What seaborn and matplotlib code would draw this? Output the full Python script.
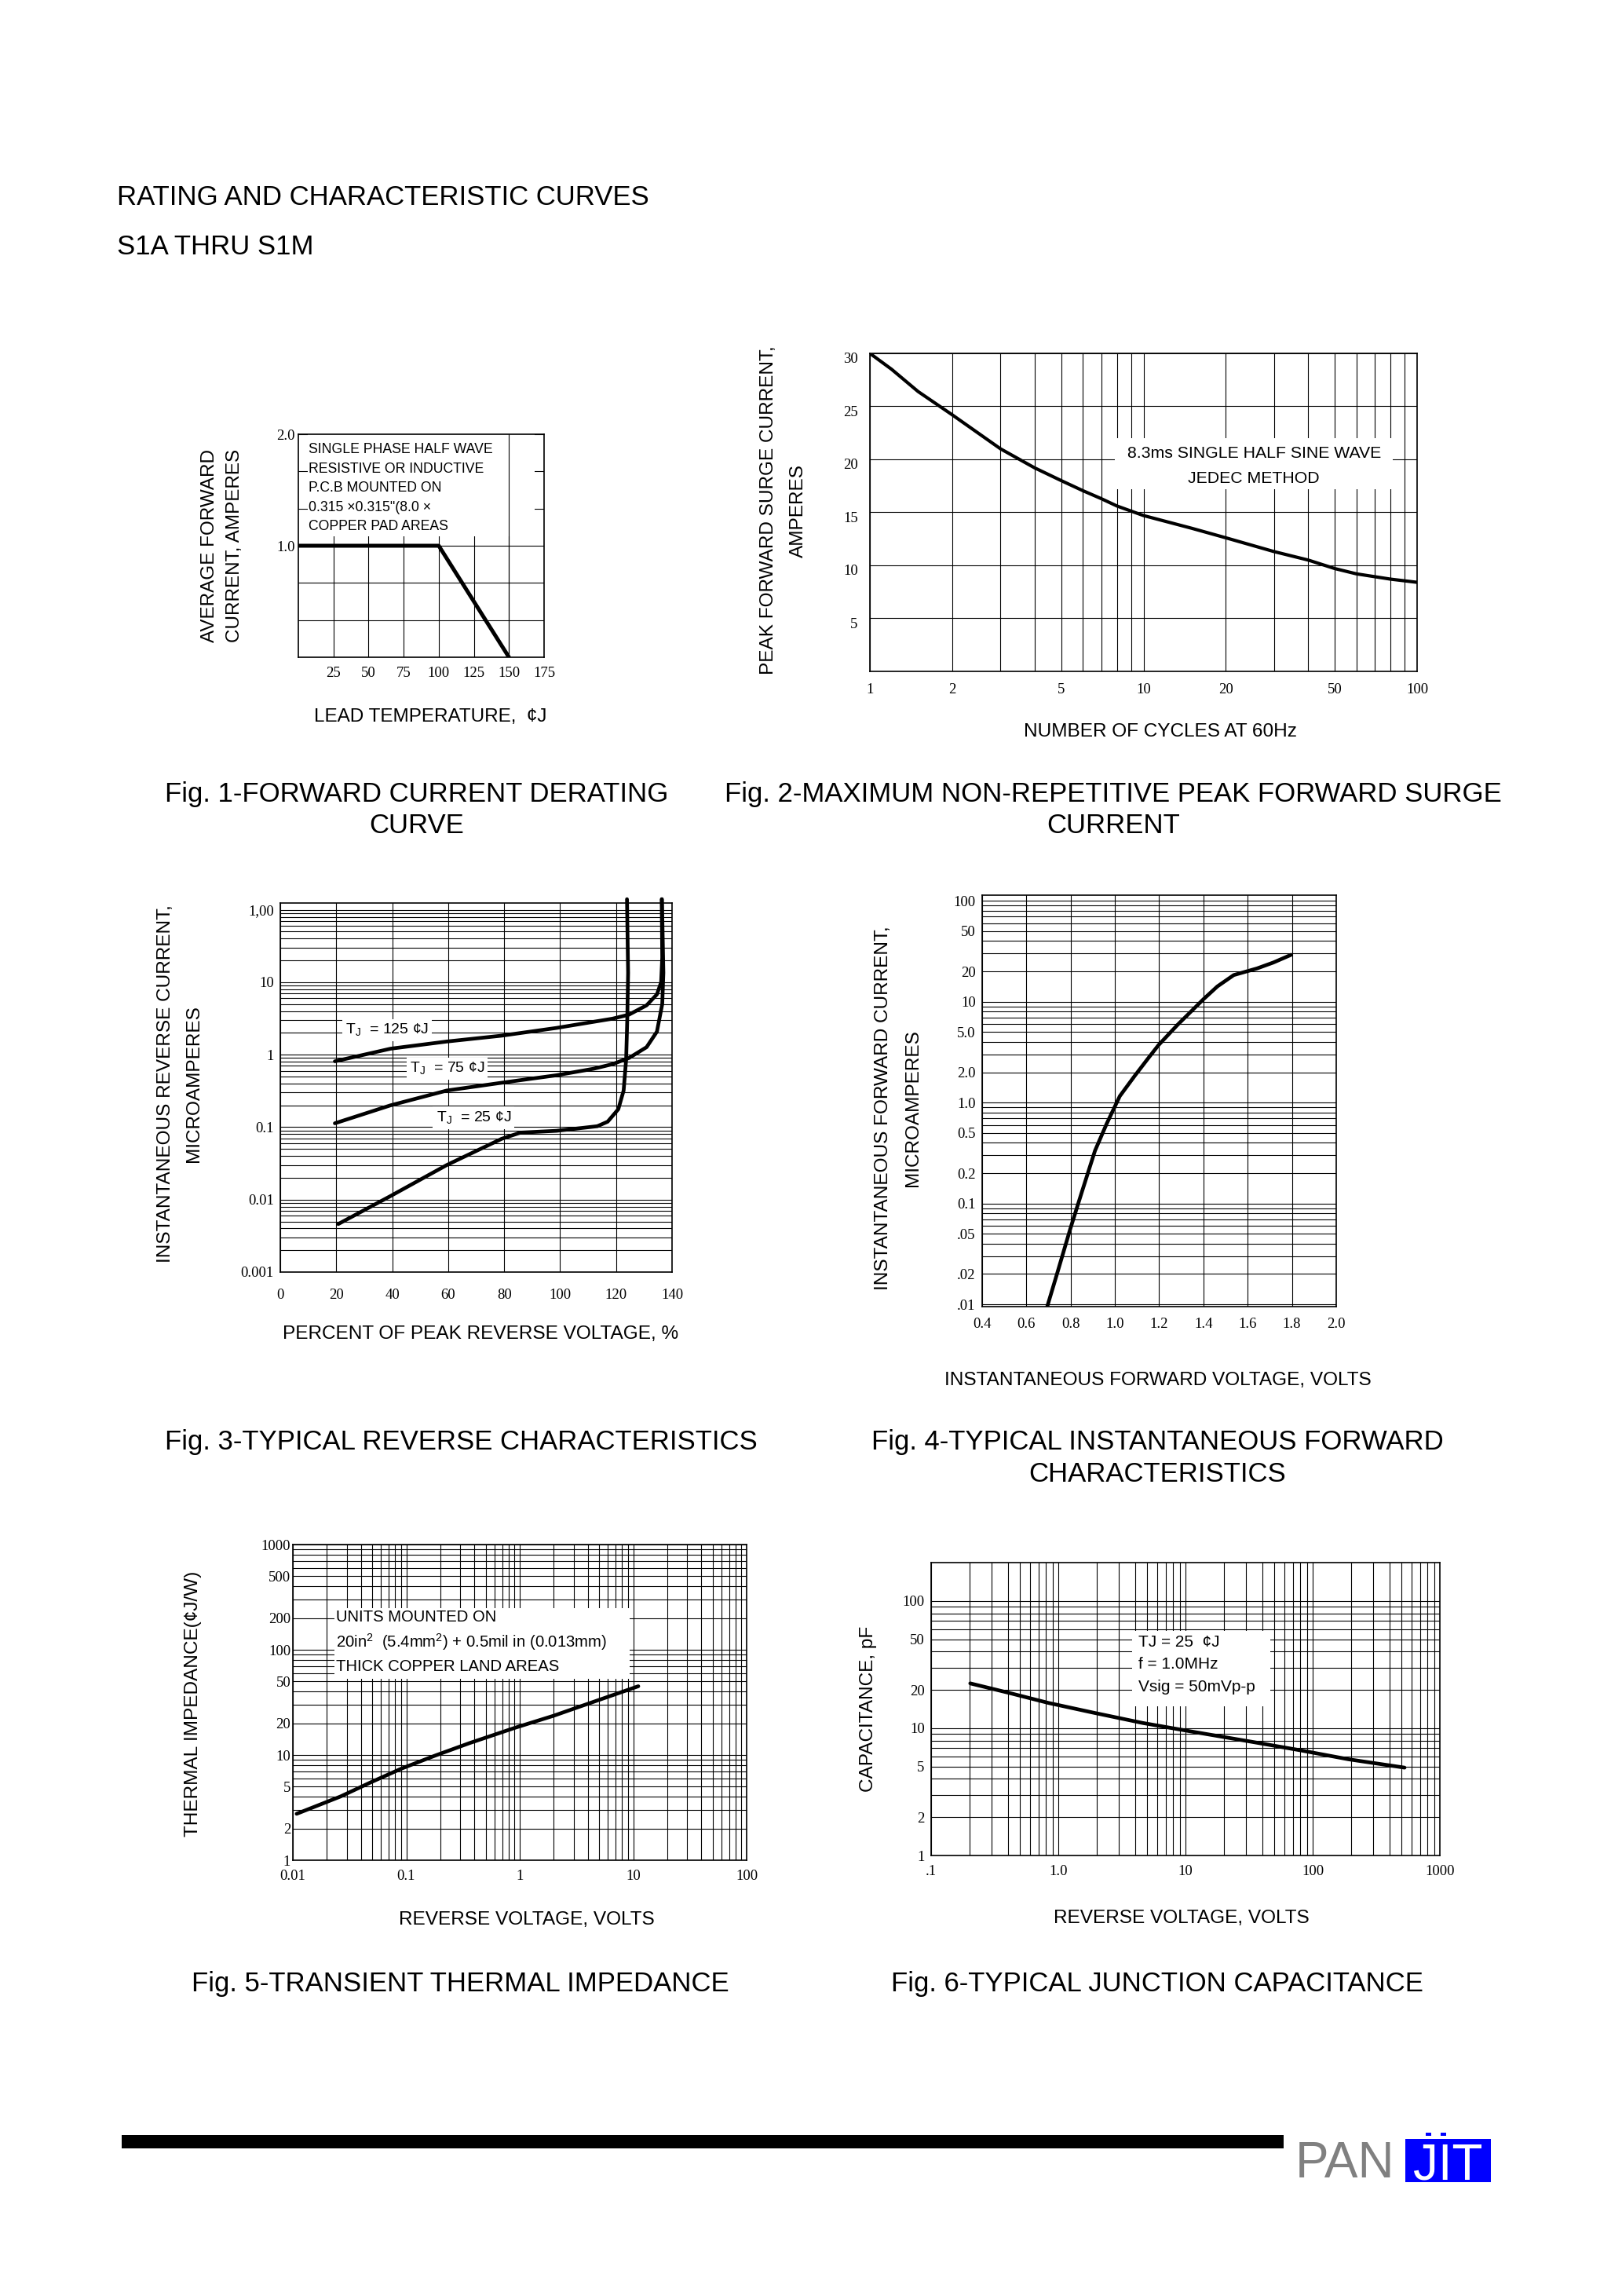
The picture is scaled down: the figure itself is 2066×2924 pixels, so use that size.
import matplotlib
matplotlib.use("Agg")
import matplotlib.pyplot as plt
import matplotlib.transforms as mtransforms
from matplotlib.patches import Rectangle
from matplotlib.ticker import NullFormatter
import seaborn as sns

# ---------------------------------------------------------
# Curve data
# ---------------------------------------------------------
# Fig. 1 - forward current derating
fig1_temp = [0, 100, 150]
fig1_amps = [1.0, 1.0, 0.0]
fig1_xticks = [25, 50, 75, 100, 125, 150, 175]
fig1_yticks = [1.0, 2.0]
fig1_ygrid = [1 / 3, 2 / 3, 4 / 3, 5 / 3]
fig1_note = ["SINGLE PHASE HALF WAVE", "RESISTIVE OR INDUCTIVE", "P.C.B MOUNTED ON",
             "0.315 \u00d70.315\"(8.0 \u00d7", "COPPER PAD AREAS"]

# Fig. 2 - peak forward surge current
fig2_cycles = [1, 1.2, 1.5, 2, 3, 4, 5, 6, 7, 8, 10, 15, 20, 30, 40, 50, 60, 80, 100]
fig2_amps = [30.0, 28.5, 26.4, 24.2, 21.0, 19.2, 18.0, 17.05, 16.3, 15.6, 14.7, 13.5,
             12.6, 11.3, 10.5, 9.7, 9.2, 8.7, 8.4]
fig2_xticks = [1, 2, 5, 10, 20, 50, 100]
fig2_xminor = [3, 4, 6, 7, 8, 9, 30, 40, 60, 70, 80, 90]
fig2_yticks = [5, 10, 15, 20, 25, 30]
fig2_note = ["8.3ms SINGLE HALF SINE WAVE", "JEDEC METHOD"]

# Fig. 3 - typical reverse characteristics
tj125_pct = [19.5, 39.4, 59.5, 79.1, 98.7, 118.7, 124.6, 130.9, 134.6, 136.1, 136.5, 136.3]
tj125_ua = [0.81, 1.21, 1.52, 1.83, 2.34, 3.14, 3.57, 4.8, 6.8, 10, 22, 140]
tj75_pct = [19.5, 39.4, 59.5, 79.1, 98.7, 112, 118.7, 124.6, 130.9, 134.6, 136.5, 136.9, 136.4]
tj75_ua = [0.113, 0.20, 0.32, 0.41, 0.52, 0.64, 0.74, 0.9, 1.27, 2.08, 5.0, 13.5, 140]
tj25_pct = [20.7, 39.4, 59.5, 79.1, 85.8, 98.7, 113.3, 117, 120.8, 122.7, 123.6, 124.0, 124.3, 123.9]
tj25_ua = [0.0046, 0.0112, 0.030, 0.069, 0.084, 0.089, 0.103, 0.119, 0.177, 0.32, 0.86, 3.1, 13.5, 140]
fig3_xticks = [0, 20, 40, 60, 80, 100, 120, 140]
fig3_yticks = [0.001, 0.01, 0.1, 1, 10, 100]
fig3_ylabels = ["0.001", "0.01", "0.1", "1", "10", "1,00"]
fig3_tags = ["T$_\\mathregular{J}$  = 125 \u00a2J", "T$_\\mathregular{J}$  = 75 \u00a2J",
             "T$_\\mathregular{J}$  = 25 \u00a2J"]
fig3_tag_x = [23.2, 46.3, 55.7]
fig3_tag_y = [2.18, 0.64, 0.134]

# Fig. 4 - typical instantaneous forward characteristics
fig4_volts = [0.694, 0.739, 0.798, 0.851, 0.910, 0.963, 1.022, 1.090, 1.149, 1.197,
              1.284, 1.400, 1.463, 1.537, 1.642, 1.716, 1.796]
fig4_ua = [0.0095, 0.0203, 0.0558, 0.131, 0.334, 0.62, 1.16, 1.85, 2.73, 3.72,
           5.94, 10.6, 14.2, 18.4, 21.4, 24.5, 29.2]
fig4_xticks = [0.4, 0.6, 0.8, 1.0, 1.2, 1.4, 1.6, 1.8, 2.0]
fig4_yticks = [0.01, 0.02, 0.05, 0.1, 0.2, 0.5, 1, 2, 5, 10, 20, 50, 100]
fig4_ylabels = [".01", ".02", ".05", "0.1", "0.2", "0.5", "1.0", "2.0", "5.0", "10", "20", "50", "100"]

# Fig. 5 - transient thermal impedance
fig5_volts = [0.0108, 0.0263, 0.0487, 0.0903, 0.181, 0.363, 0.918, 1.99, 3.16, 11.1]
fig5_imp = [2.76, 4.03, 5.5, 7.41, 9.9, 13.0, 18.2, 23.6, 28.1, 45.0]
fig5_xticks = [0.01, 0.1, 1, 10, 100]
fig5_xlabels = ["0.01", "0.1", "1", "10", "100"]
fig5_yticks = [1, 2, 5, 10, 20, 50, 100, 200, 500, 1000]
fig5_note = ["UNITS MOUNTED ON",
             "20in$^\\mathregular{2}$  (5.4mm$^\\mathregular{2}$) + 0.5mil in (0.013mm)",
             "THICK COPPER LAND AREAS"]

# Fig. 6 - typical junction capacitance
fig6_volts = [0.203, 0.405, 0.836, 1.85, 4.59, 10.6, 31.3, 80.4, 191, 528]
fig6_pf = [22.5, 19.0, 15.8, 13.3, 11.0, 9.5, 7.9, 6.7, 5.7, 4.9]
fig6_xticks = [0.1, 1, 10, 100, 1000]
fig6_xlabels = [".1", "1.0", "10", "100", "1000"]
fig6_yticks = [1, 2, 5, 10, 20, 50, 100]
fig6_ygrid = [3, 4, 6, 7, 8, 9, 30, 40, 60, 70, 80, 90]
fig6_note = ["TJ = 25  \u00a2J", "f = 1.0MHz", "Vsig = 50mVp-p"]

captions = [
    ("Fig. 1-FORWARD CURRENT DERATING", 531, 1021), ("CURVE", 531, 1061),
    ("Fig. 2-MAXIMUM NON-REPETITIVE PEAK FORWARD SURGE", 1418, 1021), ("CURRENT", 1418, 1061),
    ("Fig. 3-TYPICAL REVERSE CHARACTERISTICS", 587, 1846),
    ("Fig. 4-TYPICAL INSTANTANEOUS FORWARD", 1474, 1846), ("CHARACTERISTICS", 1474, 1887),
    ("Fig. 5-TRANSIENT THERMAL IMPEDANCE", 586, 2536),
    ("Fig. 6-TYPICAL JUNCTION CAPACITANCE", 1474, 2536),
]

# ---------------------------------------------------------
# Page setup (all positions below are page pixels)
# ---------------------------------------------------------
W, H = 2066, 2924
sns.set_theme(style="white")
plt.rcParams["font.family"] = ["Liberation Sans", "DejaVu Sans"]
plt.rcParams["text.color"] = "black"
plt.rcParams["axes.labelcolor"] = "black"
plt.rcParams["axes.edgecolor"] = "black"
plt.rcParams["xtick.color"] = "black"
plt.rcParams["ytick.color"] = "black"

fig = plt.figure(figsize=(W / 100, H / 100), dpi=100)
fig.patch.set_facecolor("white")


def fx(x):
    return x / W


def fy(y):
    return 1 - y / H


def page_axes(l, t, r, b):
    return fig.add_axes([l / W, 1 - b / H, (r - l) / W, (b - t) / H])


def style_axes(ax, xpad, ypad):
    ax.set_axisbelow(True)
    ax.grid(True, which="both", color="black", linewidth=0.8)
    ax.tick_params(which="both", length=0, labelsize=13.5,
                   labelfontfamily="Liberation Serif", colors="black")
    ax.tick_params(axis="x", pad=xpad)
    ax.tick_params(axis="y", pad=ypad)
    for sp in ax.spines.values():
        sp.set_visible(True)
        sp.set_color("black")
        sp.set_linewidth(1.2)


def mask(ax, x0, y0, x1, y1):
    ax.add_patch(Rectangle((x0, y0), x1 - x0, y1 - y0, transform=ax.transAxes,
                           facecolor="white", edgecolor="none", zorder=1))


def labels(ax, xlab, xpos, ylab, ypos, size=17.6, ls=1.9):
    ax.set_xlabel(xlab, fontsize=size, va="center", ha="center")
    ax.xaxis.set_label_coords(*xpos)
    ax.set_ylabel(ylab, fontsize=size, va="center", ha="center", linespacing=ls)
    ax.yaxis.set_label_coords(*ypos)


# header
fig.text(fx(149), fy(261), "RATING AND CHARACTERISTIC CURVES", fontsize=25, va="baseline")
fig.text(fx(149), fy(324), "S1A THRU S1M", fontsize=25, va="baseline")

# ---------------- Fig. 1 ----------------
ax1 = page_axes(380, 553, 693, 837)
style_axes(ax1, 9, 3)
sns.lineplot(x=fig1_temp, y=fig1_amps, ax=ax1, color="black", linewidth=3.6,
             estimator=None, sort=False)
ax1.set_xlim(0, 175)
ax1.set_ylim(0, 2.0)
ax1.set_xticks(fig1_xticks, [str(v) for v in fig1_xticks])
ax1.set_yticks(fig1_yticks, ["1.0", "2.0"])
ax1.set_yticks(fig1_ygrid, minor=True)
ax1.yaxis.set_minor_formatter(NullFormatter())
mask(ax1, 0.038, 0.542, 0.962, 1.0)
ax1.axvline(fig1_xticks[-2], color="black", linewidth=0.8, zorder=1.5)
for i, line in enumerate(fig1_note):
    ax1.text(0.042, 0.930 - i * 0.0863, line, transform=ax1.transAxes,
             fontsize=12.7, va="center", ha="left", zorder=3)
labels(ax1, "LEAD TEMPERATURE,  \u00a2J", (0.537, -0.268),
       "AVERAGE FORWARD\nCURRENT, AMPERES", (-0.31, 0.5), size=17.5, ls=1.6)

# ---------------- Fig. 2 ----------------
ax2 = page_axes(1108, 450, 1805, 855)
style_axes(ax2, 11, 11)
ax2.set_xscale("log")
sns.lineplot(x=fig2_cycles, y=fig2_amps, ax=ax2, color="black", linewidth=3.0,
             estimator=None, sort=False)
ax2.set_xlim(1, 100)
ax2.set_ylim(0, 30)
ax2.set_xticks(fig2_xticks, [str(v) for v in fig2_xticks])
ax2.set_xticks(fig2_xminor, minor=True)
ax2.xaxis.set_minor_formatter(NullFormatter())
ax2.set_yticks(fig2_yticks, [str(v) for v in fig2_yticks])
mask(ax2, 0.448, 0.573, 0.955, 0.733)
ax2.text(0.702, 0.686, fig2_note[0], transform=ax2.transAxes, fontsize=15.3,
         ha="center", va="center", zorder=3)
ax2.text(0.702, 0.607, fig2_note[1], transform=ax2.transAxes, fontsize=15.3,
         ha="center", va="center", zorder=3)
labels(ax2, "NUMBER OF CYCLES AT 60Hz", (0.531, -0.19),
       "PEAK FORWARD SURGE CURRENT,\nAMPERES", (-0.158, 0.506), ls=1.95)

# ---------------- Fig. 3 ----------------
ax3 = page_axes(357, 1150, 856, 1620)
style_axes(ax3, 15, 6)
ax3.set_yscale("log")
for xs, ys in [(tj125_pct, tj125_ua), (tj75_pct, tj75_ua), (tj25_pct, tj25_ua)]:
    sns.lineplot(x=xs, y=ys, ax=ax3, color="black", linewidth=3.4,
                 estimator=None, sort=False, clip_on=False)
ax3.set_xlim(0, 140)
ax3.set_ylim(0.001, 124)
ax3.set_xticks(fig3_xticks, [str(v) for v in fig3_xticks])
ax3.set_yticks(fig3_yticks, fig3_ylabels)
ax3.set_yticks([m * d for d in fig3_yticks[:-1] for m in range(2, 10)], minor=True)
ax3.yaxis.set_minor_formatter(NullFormatter())
for tag, tx, ty in zip(fig3_tags, fig3_tag_x, fig3_tag_y):
    ax3.text(tx, ty, tag, fontsize=14, ha="left", va="center", zorder=3,
             bbox=dict(facecolor="white", edgecolor="none", pad=3))
labels(ax3, "PERCENT OF PEAK REVERSE VOLTAGE, %", (0.511, -0.168),
       "INSTANTANEOUS REVERSE CURRENT,\nMICROAMPERES", (-0.257, 0.51), ls=1.85)

# ---------------- Fig. 4 ----------------
ax4 = page_axes(1251, 1140, 1702, 1664)
style_axes(ax4, 10, 6)
ax4.set_yscale("log")
sns.lineplot(x=fig4_volts, y=fig4_ua, ax=ax4, color="black", linewidth=3.4,
             estimator=None, sort=False)
ax4.set_xlim(0.4, 2.0)
ax4.set_ylim(0.0095, 114)
ax4.set_xticks(fig4_xticks, [f"{v:.1f}" for v in fig4_xticks])
ax4.set_yticks(fig4_yticks, fig4_ylabels)
ax4.set_yticks([m * d for d in [0.01, 0.1, 1, 10] for m in (3, 4, 6, 7, 8, 9)], minor=True)
ax4.yaxis.set_minor_formatter(NullFormatter())
labels(ax4, "INSTANTANEOUS FORWARD VOLTAGE, VOLTS", (0.497, -0.179),
       "INSTANTANEOUS FORWARD CURRENT,\nMICROAMPERES", (-0.237, 0.483), ls=1.9)

# ---------------- Fig. 5 ----------------
ax5 = page_axes(373, 1967, 951, 2369)
style_axes(ax5, 9, 2)
ax5.set_xscale("log")
ax5.set_yscale("log")
sns.lineplot(x=fig5_volts, y=fig5_imp, ax=ax5, color="black", linewidth=3.4,
             estimator=None, sort=False)
ax5.set_xlim(0.01, 100)
ax5.set_ylim(1, 1000)
ax5.set_xticks(fig5_xticks, fig5_xlabels)
ax5.set_xticks([m * d for d in fig5_xticks[:-1] for m in range(2, 10)], minor=True)
ax5.xaxis.set_minor_formatter(NullFormatter())
ax5.set_yticks(fig5_yticks, [str(v) for v in fig5_yticks])
ax5.set_yticks([m * d for d in (1, 10, 100) for m in (3, 4, 6, 7, 8, 9)], minor=True)
ax5.yaxis.set_minor_formatter(NullFormatter())
mask(ax5, 0.092, 0.575, 0.742, 0.799)
for i, line in enumerate(fig5_note):
    ax5.text(0.095, 0.769 - i * 0.0785, line, transform=ax5.transAxes,
             fontsize=14.6, ha="left", va="center", zorder=3)
labels(ax5, "REVERSE VOLTAGE, VOLTS", (0.516, -0.19),
       "THERMAL IMPEDANCE(\u00a2J/W)", (-0.22, 0.495))

# ---------------- Fig. 6 ----------------
ax6 = page_axes(1186, 1990, 1834, 2363)
style_axes(ax6, 9, 6)
ax6.set_xscale("log")
ax6.set_yscale("log")
sns.lineplot(x=fig6_volts, y=fig6_pf, ax=ax6, color="black", linewidth=3.4,
             estimator=None, sort=False)
ax6.set_xlim(0.1, 1000)
ax6.set_ylim(1, 200)
ax6.set_xticks(fig6_xticks, fig6_xlabels)
ax6.set_xticks([m * d for d in fig6_xticks[:-1] for m in range(2, 10)], minor=True)
ax6.xaxis.set_minor_formatter(NullFormatter())
ax6.set_yticks(fig6_yticks, [str(v) for v in fig6_yticks])
ax6.set_yticks(fig6_ygrid, minor=True)
ax6.yaxis.set_minor_formatter(NullFormatter())
mask(ax6, 0.395, 0.509, 0.667, 0.767)
for i, line in enumerate(fig6_note):
    ax6.text(0.407, 0.727 - i * 0.0755, line, transform=ax6.transAxes,
             fontsize=15, ha="left", va="center", zorder=3)
labels(ax6, "REVERSE VOLTAGE, VOLTS", (0.492, -0.214),
       "CAPACITANCE, pF", (-0.123, 0.499))

# fig. 2 prints its y numbers a little under the grid lines
drop = mtransforms.ScaledTranslation(0, -0.06, fig.dpi_scale_trans)
for tick in ax2.yaxis.get_major_ticks():
    tick.label1.set_transform(tick.label1.get_transform() + drop)

# captions
for text, cx, cy in captions:
    fig.text(fx(cx), fy(cy), text, fontsize=25, ha="center", va="baseline")

# footer bar and logo
fig.patches.append(Rectangle((fx(155), fy(2736)), (1635 - 155) / W, 17 / H,
                             transform=fig.transFigure, facecolor="black", edgecolor="none"))
fig.text(fx(1650), fy(2773), "PAN", fontsize=46, color="#808080", ha="left", va="baseline")
fig.patches.append(Rectangle((fx(1790), fy(2779)), 109 / W, 55 / H,
                             transform=fig.transFigure, facecolor="#0000ff", edgecolor="none"))
for dot_x in (1816, 1835):
    fig.patches.append(Rectangle((fx(dot_x), fy(2720)), 7 / W, 4 / H,
                                 transform=fig.transFigure, facecolor="#0000ff", edgecolor="none"))
fig.text(fx(1844), fy(2775), "JIT", fontsize=46, color="white", ha="center", va="baseline")

fig.savefig("out.png", dpi=100, facecolor="white")
